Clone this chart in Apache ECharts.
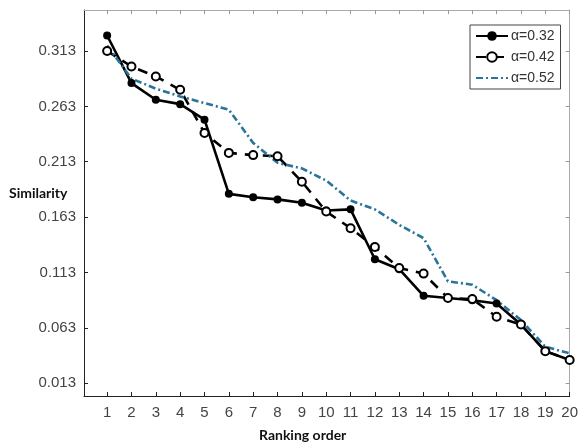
<!DOCTYPE html>
<html>
<head>
<meta charset="utf-8">
<script src="https://cdn.jsdelivr.net/npm/echarts@6/dist/echarts.min.js"></script>
<style>
  html, body { margin: 0; padding: 0; background: #fff; }
  #chart { width: 581px; height: 446px; }
</style>
</head>
<body>
<div id="chart"></div>
<script>
// ranking positions and similarity values
const ranks = [1, 2, 3, 4, 5, 6, 7, 8, 9, 10, 11, 12, 13, 14, 15, 16, 17, 18, 19, 20];
const alpha032 = [0.327, 0.284, 0.269, 0.265, 0.251, 0.184, 0.181, 0.179, 0.176, 0.169, 0.170, 0.125, 0.116, 0.092, 0.090, 0.088, 0.085, 0.066, 0.042, 0.034];
const alpha042 = [0.313, 0.299, 0.290, 0.278, 0.239, 0.221, 0.219, 0.218, 0.195, 0.168, 0.153, 0.136, 0.117, 0.112, 0.090, 0.089, 0.073, 0.066, 0.042, 0.034];
const alpha052 = [0.318, 0.288, 0.279, 0.272, 0.266, 0.260, 0.230, 0.212, 0.207, 0.196, 0.178, 0.170, 0.156, 0.144, 0.105, 0.102, 0.088, 0.070, 0.046, 0.040];
const yTicks = [0.013, 0.063, 0.113, 0.163, 0.213, 0.263, 0.313];
const seriesNames = ["α=0.32", "α=0.42", "α=0.52"];

const labelFont = "'Liberation Sans', Arial, sans-serif";
const nameFont = "Lato, 'Open Sans', sans-serif";

let pairs = vals => ranks.map((r, i) => [r, vals[i]]);

let frameAxis = (color) => ({
    axisLine: { show: true, onZero: false, lineStyle: { color: color, width: 1 } },
    axisTick: { show: true, inside: true, length: 4, lineStyle: { color: color } },
    splitLine: { show: false }
});

let option = {
    backgroundColor: "#fff",
    animation: false,
    grid: { left: 84, top: 10, right: 8, bottom: 50, show: false },
    xAxis: [
        Object.assign(frameAxis("#222"), {
            type: "value", min: 0.05, max: 20, position: "bottom",
            axisTick: { show: true, inside: true, length: 4, customValues: ranks, lineStyle: { color: "#222" } },
            axisLabel: { customValues: ranks, margin: 9, color: "#444", fontSize: 15, fontFamily: labelFont }
        }),
        Object.assign(frameAxis("#aaa"), {
            type: "value", min: 0.05, max: 20, position: "top",
            axisTick: { show: true, inside: true, length: 4, customValues: ranks, lineStyle: { color: "#999" } },
            axisLabel: { show: false }
        })
    ],
    yAxis: [
        Object.assign(frameAxis("#222"), {
            type: "value", min: 0.0015, max: 0.35, position: "left",
            axisTick: { show: true, inside: true, length: 4, customValues: yTicks, lineStyle: { color: "#222" } },
            axisLabel: { customValues: yTicks, margin: 8, color: "#444", fontSize: 15, fontFamily: labelFont,
                formatter: v => v.toFixed(3) }
        }),
        Object.assign(frameAxis("#aaa"), {
            type: "value", min: 0.0015, max: 0.35, position: "right",
            axisTick: { show: true, inside: true, length: 4, customValues: yTicks, lineStyle: { color: "#999" } },
            axisLabel: { show: false }
        })
    ],
    legend: {
        orient: "vertical",
        left: 470, top: 25,
        padding: [4, 6, 4, 5],
        itemWidth: 32, itemHeight: 12, itemGap: 7,
        backgroundColor: "#fff",
        borderColor: "#444", borderWidth: 1, borderRadius: 0,
        textStyle: { color: "#333", fontSize: 14, fontFamily: labelFont, padding: [0, 0, 0, -2] },
        data: [
            seriesNames[0],
            seriesNames[1],
            { name: seriesNames[2], itemStyle: { opacity: 0 } }
        ]
    },
    graphic: [
        { type: "text", left: 9, top: 186,
          style: { text: "Similarity", fill: "#111", font: "bold 14px " + nameFont } },
        { type: "text", left: 259, top: 428,
          style: { text: "Ranking order", fill: "#111", font: "bold 14px " + nameFont } }
    ],
    series: [
        {
            name: seriesNames[0], type: "line", data: pairs(alpha032),
            symbol: "circle", symbolSize: 8,
            lineStyle: { color: "#000", width: 2.6, type: "solid" },
            itemStyle: { color: "#000" }
        },
        {
            name: seriesNames[1], type: "line", data: pairs(alpha042),
            symbol: "emptyCircle", symbolSize: 8,
            lineStyle: { color: "#000", width: 2.6, type: [10, 8] },
            itemStyle: { color: "#000", borderColor: "#000", borderWidth: 2 }
        },
        {
            name: seriesNames[2], type: "line", data: pairs(alpha052),
            symbol: "none",
            lineStyle: { color: "#2a7499", width: 2.6, type: [7, 3, 2, 3] },
            itemStyle: { color: "#2a7499" }
        }
    ]
};

let chart = echarts.init(document.querySelector("#chart"), null, { renderer: "canvas" });
chart.setOption(option);
</script>
</body>
</html>
